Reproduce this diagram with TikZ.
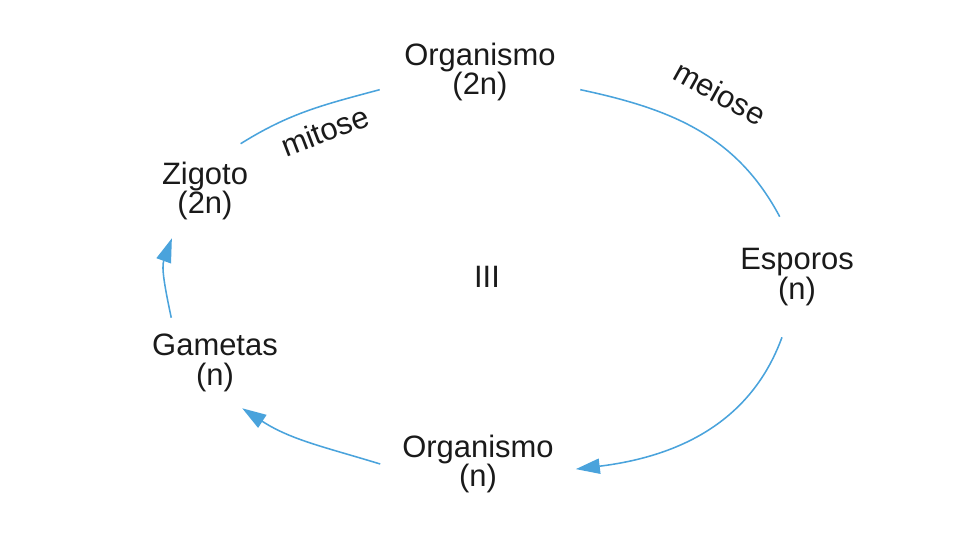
\documentclass[tikz,border=0pt]{standalone}
\usepackage{fontspec}
\setmainfont{Liberation Sans}
\usetikzlibrary{arrows.meta}
\definecolor{CycleBlue}{HTML}{4AA3DC}
\definecolor{BodyText}{HTML}{1A1A1A}

\begin{document}
\begin{tikzpicture}[x=0.025cm,y=0.025cm,
  stage/.style={align=center,inner sep=0pt,text=BodyText,
    font=\fontsize{22}{21.3}\selectfont},
  cycle/.style={draw=CycleBlue,line width=1.1pt},
  cyclearrow/.style={cycle,-{Triangle[length=0.6cm,width=0.38cm]}}]
  \useasboundingbox (0,0) rectangle (960,540);

  \node[stage,minimum width=5cm] (orgtop) at (480,468) {Organismo\\(2n)};
  \node[stage,minimum height=3cm] (esp) at (797,263) {Esporos\\(n)};
  \node[stage,minimum width=4.875cm] (orgbot) at (478,76) {Organismo\\(n)};
  \node[stage,minimum height=2.25cm] (gam) at (215,177) {Gametas\\(n)};
  \node[stage,minimum height=2.35cm] (zig) at (205,349) {Zigoto\\(2n)};
  \node[stage] (cycnum) at (487,263) {III};

  \draw[cycle] (orgtop.-10) to[out=-12,in=118] (esp.106);
  \draw[cyclearrow] (esp.-104) to[out=250,in=7] (orgbot.-3);
  \draw[cyclearrow] (orgbot.west) to[out=163,in=-33] (gam.-59);
  \draw[cyclearrow] (gam.134) to[out=102,in=-110] (zig.-125);
  \draw[cycle] (zig.53) to[out=32,in=195] (orgtop.190);

  \node[stage,rotate=21] (mitlabel) at (325,409) {mitose};
  \node[stage,rotate=-29] (meilabel) at (720,447) {meiose};
\end{tikzpicture}
\end{document}
